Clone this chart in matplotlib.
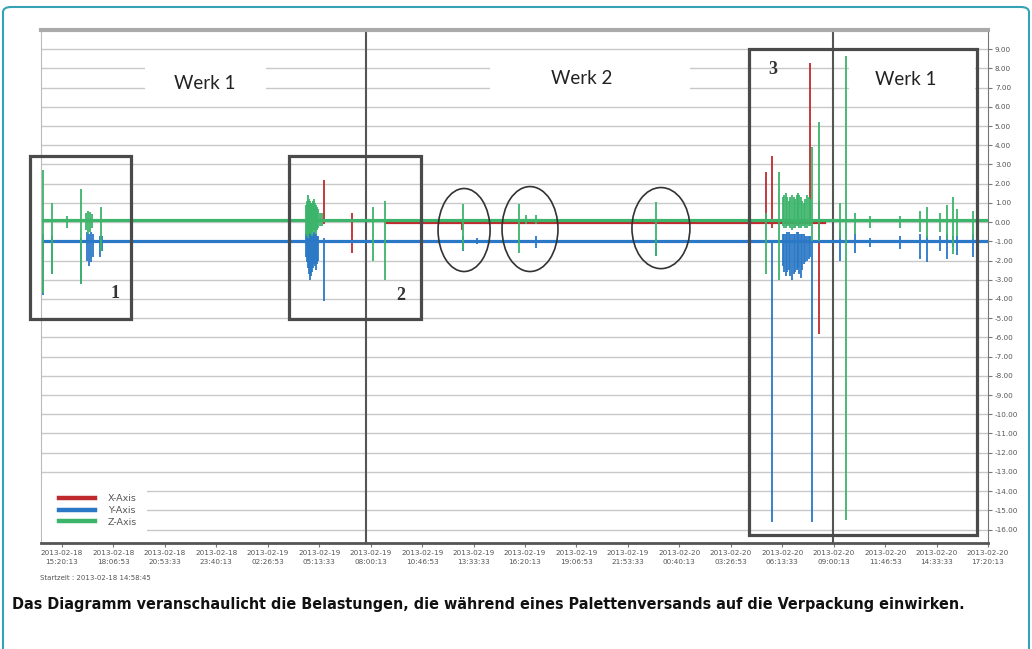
import numpy as np
import matplotlib
matplotlib.use("Agg")
import matplotlib.pyplot as plt
from matplotlib.patches import Rectangle, Ellipse, FancyBboxPatch

# time axis: hours after 2013-02-18 15:20:13, values in g
tick_labels = [
    "2013-02-18\n15:20:13", "2013-02-18\n18:06:53", "2013-02-18\n20:53:33",
    "2013-02-18\n23:40:13", "2013-02-19\n02:26:53", "2013-02-19\n05:13:33",
    "2013-02-19\n08:00:13", "2013-02-19\n10:46:53", "2013-02-19\n13:33:33",
    "2013-02-19\n16:20:13", "2013-02-19\n19:06:53", "2013-02-19\n21:53:33",
    "2013-02-20\n00:40:13", "2013-02-20\n03:26:53", "2013-02-20\n06:13:33",
    "2013-02-20\n09:00:13", "2013-02-20\n11:46:53", "2013-02-20\n14:33:33",
    "2013-02-20\n17:20:13",
]
y_ticks = list(range(9, -17, -1))

# baselines: (start, end, level)
x_base = (17.5, 41.2, -0.05)
y_base = (-1.05, 50.0, -1.0)
z_base = (-1.05, 50.0, 0.1)

# spikes: time, low, high
x_t = [14.13, 15.64, 21.60, 38.03, 38.35, 40.40, 40.89]
x_lo = [-0.1, -1.6, -0.4, -0.1, -0.3, 0.0, -5.8]
x_hi = [2.2, 0.5, 0.0, 2.6, 3.45, 8.3, 1.1]

y_t = [-1.02, -0.54, 1.02, 1.35, 1.45, 1.56, 1.67, 2.05, 2.15,
       13.17, 13.22, 13.28, 13.33, 13.39, 13.45, 13.50, 13.55, 13.61, 13.66, 13.71, 13.77,
       13.82, 14.13,
       21.63, 22.39, 25.62, 32.09,
       38.35, 38.93, 39.01, 39.09, 39.17, 39.25, 39.33, 39.42, 39.50, 39.58, 39.66, 39.74,
       39.82, 39.90, 39.98, 40.06, 40.14, 40.23, 40.31, 40.39, 40.51,
       42.01, 42.82, 43.63, 45.25, 46.33, 46.71, 47.41, 47.79, 48.11, 48.33, 49.19]
y_lo = [-3.8, -2.7, -3.2, -2.0, -2.3, -2.1, -1.8, -1.8, -1.5,
        -1.8, -2.1, -2.4, -2.7, -3.0, -2.8, -2.6, -2.4, -2.2, -2.3, -2.5, -2.2,
        -2.0, -4.1,
        -1.5, -1.15, -1.35, -1.75,
        -15.6, -2.3, -2.6, -2.8, -2.6, -2.5, -2.8, -3.0, -2.7, -2.6, -2.5, -2.4,
        -2.7, -2.9, -2.5, -2.2, -2.1, -2.0, -1.9, -1.8, -15.6,
        -2.0, -1.6, -1.3, -1.4, -1.9, -2.1, -1.5, -1.9, -1.3, -1.7, -1.8]
y_hi = [-0.6, -0.7, -0.8, -0.5, -0.6, -0.5, -0.6, -0.7, -0.7,
        -0.6, -0.6, -0.6, -0.5, -0.5, -0.6, -0.7, -0.6, -0.5, -0.6, -0.6, -0.7,
        -0.7, -0.8,
        -0.7, -0.85, -0.7, -0.9,
        -1.0, -0.6, -0.6, -0.6, -0.5, -0.5, -0.6, -0.6, -0.6, -0.6, -0.5, -0.5,
        -0.6, -0.6, -0.6, -0.6, -0.7, -0.7, -0.7, -0.7, -1.0,
        -0.4, -0.6, -0.8, -0.7, -0.6, -0.7, -0.7, -0.6, -0.7, -0.7, -0.6]

z_t = [-1.02, -0.54, 0.25, 1.02, 1.30, 1.40, 1.51, 1.62, 2.11,
       13.17, 13.22, 13.28, 13.33, 13.39, 13.45, 13.50, 13.55, 13.61, 13.66, 13.71, 13.77,
       13.82, 13.93, 14.04, 16.78, 17.42,
       21.63, 24.70, 25.08, 25.62, 32.09,
       38.03, 38.73, 38.93, 39.01, 39.09, 39.17, 39.25, 39.33, 39.42, 39.50, 39.58, 39.66,
       39.74, 39.82, 39.90, 39.98, 40.06, 40.14, 40.23, 40.31, 40.39,
       40.51, 40.89, 42.01, 42.33, 42.82, 43.63, 45.25, 46.33, 46.71, 47.41, 47.79,
       48.11, 48.33, 49.19]
z_lo = [-3.7, -2.7, -0.3, -3.2, -0.4, -0.6, -0.5, -0.3, -1.5,
        -0.6, -0.7, -0.8, -0.6, -0.5, -0.6, -0.7, -0.5, -0.4, -0.5, -0.6, -0.4,
        -0.3, -0.2, -0.2, -2.0, -3.0,
        -1.45, -1.6, -0.1, -0.1, -1.75,
        -2.7, -3.0, -0.2, -0.3, -0.3, -0.2, -0.2, -0.3, -0.4, -0.3, -0.3, -0.2,
        -0.2, -0.3, -0.3, -0.2, -0.2, -0.3, -0.3, -0.2, -0.2,
        -1.0, -1.0, -0.8, -15.5, -0.6, -0.3, -0.3, -0.5, -0.8, -0.5, -0.9,
        -1.65, -0.7, -0.9]
z_hi = [2.7, 1.0, 0.3, 1.75, 0.5, 0.6, 0.55, 0.4, 0.8,
        0.9, 1.1, 1.4, 1.2, 1.1, 1.0, 1.0, 1.1, 1.2, 1.0, 0.9, 0.8,
        0.7, 0.5, 0.5, 0.8, 1.1,
        0.95, 0.95, 0.35, 0.35, 1.05,
        0.5, 2.6, 1.3, 1.4, 1.5, 1.3, 1.1, 1.3, 1.4, 1.3, 1.2, 1.4,
        1.5, 1.4, 1.3, 1.1, 1.0, 1.2, 1.4, 1.3, 1.2,
        3.9, 5.2, 1.0, 8.65, 0.5, 0.3, 0.3, 0.6, 0.8, 0.5, 0.9,
        1.3, 0.7, 0.6]

RED, BLUE, GREEN = "#be2a2e", "#2b78c6", "#3cb46a"
GRID = "#c8c8c8"
DARK = "#4a4a4a"

fig = plt.figure(figsize=(10.32, 6.49), dpi=100)
ax = fig.add_axes([41 / 1032, 1 - 543 / 649, 947 / 1032, 513 / 649])

for v in y_ticks:
    ax.axhline(v, color=GRID, lw=1, zorder=1)

ax.axvline(16.41, color="#555555", lw=1.5, zorder=2)
ax.axvline(41.63, color="#555555", lw=1.5, zorder=2)

# X axis (red)
ax.plot(x_base[:2], [x_base[2]] * 2, color=RED, lw=1.6, zorder=3)
ax.vlines(x_t, x_lo, x_hi, color=RED, lw=1.3, zorder=3)
# Y axis (blue)
ax.plot(y_base[:2], [y_base[2]] * 2, color=BLUE, lw=2.3, zorder=4)
ax.vlines(y_t, y_lo, y_hi, color=BLUE, lw=1.3, zorder=4)
# Z axis (green)
ax.plot(z_base[:2], [z_base[2]] * 2, color=GREEN, lw=2.3, zorder=5)
ax.vlines(z_t, z_lo, z_hi, color=GREEN, lw=1.3, zorder=5)

ax.set_xlim(-1.134, 50.0)
ax.set_ylim(-16.7, 10.0)

ax.set_xticks([k * 10000 / 3600 for k in range(len(tick_labels))])
ax.set_xticklabels(tick_labels, fontsize=5.2, color="#555555", linespacing=1.6)
ax.yaxis.tick_right()
ax.set_yticks(y_ticks)
ax.set_yticklabels([f"{v:.2f}" for v in y_ticks], fontsize=5.2, color="#555555")
ax.tick_params(axis="both", length=3, width=0.8, color="#777777", pad=2)

ax.spines["top"].set_color("#aaaaaa")
ax.spines["top"].set_linewidth(3)
ax.spines["left"].set_color("#bbbbbb")
ax.spines["right"].set_color("#777777")
ax.spines["bottom"].set_color("#555555")
ax.spines["bottom"].set_linewidth(2)

# white gaps behind the plant labels
for x0, x1 in [(4.5, 11.0), (23.1, 33.9), (42.5, 49.3)]:
    ax.add_patch(Rectangle((x0, 6.4), x1 - x0, 2.1, facecolor="white",
                           edgecolor="none", zorder=1.5))
wfont = dict(fontsize=13.5, family="Lato", color="#222222", ha="center", va="center", zorder=8)
ax.text(7.72, 7.19, "Werk 1", **wfont)
ax.text(28.08, 7.50, "Werk 2", **wfont)
ax.text(45.57, 7.40, "Werk 1", **wfont)

nfont = dict(fontsize=13, family="Liberation Serif", fontweight="bold", color="#333333",
             ha="center", va="center", zorder=8)
ax.text(38.39, 7.92, "3", **nfont)
ax.text(2.86, -3.70, "1", **nfont)
ax.text(18.30, -3.80, "2", **nfont)

for x0, x1, y0, y1 in [(-1.73, 3.73, -5.04, 3.44), (12.26, 19.38, -5.04, 3.44),
                       (37.10, 49.41, -16.29, 9.01)]:
    ax.add_patch(Rectangle((x0, y0), x1 - x0, y1 - y0, fill=False, edgecolor=DARK,
                           lw=2.3, zorder=7, clip_on=False))

for cx, cy, w, h in [(21.71, -0.41, 2.81, 4.32), (25.27, -0.36, 3.02, 4.42),
                     (32.34, -0.31, 3.13, 4.22)]:
    ax.add_patch(Ellipse((cx, cy), w, h, fill=False, edgecolor="#333333", lw=1.2, zorder=7))

# legend
ax.add_patch(Rectangle((-1.1, -16.6), 5.7, 3.0, facecolor="white", edgecolor="none", zorder=6))
leg = ax.legend(
    [plt.Line2D([], [], color=c, lw=3.2) for c in (RED, BLUE, GREEN)],
    ["X-Axis", "Y-Axis", "Z-Axis"],
    loc="lower left", bbox_to_anchor=(0.01, 0.015), frameon=False, fontsize=6.8,
    handlelength=3.8, handletextpad=1.4, labelspacing=0.3, labelcolor="#555555",
)
leg.set_zorder(9)

fig.text(40 / 1032, 1 - 578 / 649, "Startzeit : 2013-02-18 14:58:45", fontsize=5,
         color="#555555", va="center")

fig.text(12 / 1032, 1 - 604 / 649,
         "Das Diagramm veranschaulicht die Belastungen, die während eines "
         "Palettenversands auf die Verpackung einwirken.",
         fontsize=11.55, fontweight="bold", family=["Liberation Sans Narrow", "DejaVu Sans"],
         fontstretch="condensed", va="center", color="#111111")

fig.patches.append(FancyBboxPatch((3 / 1032, -0.05), 1026 / 1032, 1.05 - 7 / 649,
                                  boxstyle="round,pad=0,rounding_size=0.008",
                                  transform=fig.transFigure, fill=False,
                                  edgecolor="#35a3b4", lw=1.5))

fig.savefig("out.png", dpi=100)
